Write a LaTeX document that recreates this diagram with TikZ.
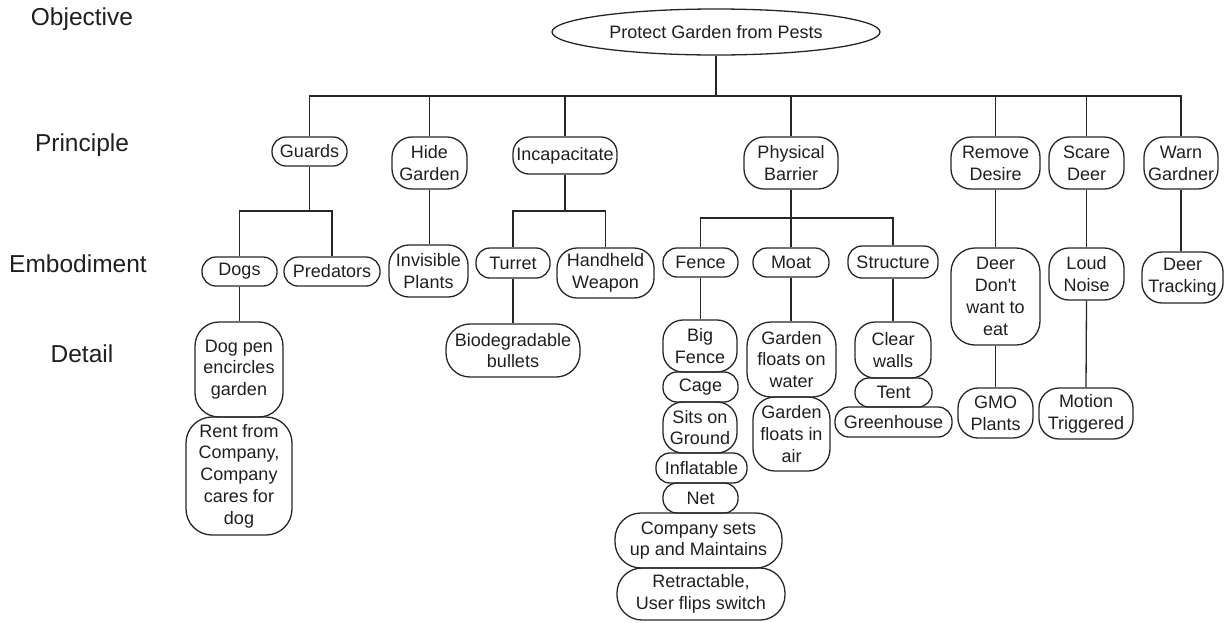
\documentclass[tikz,border=0pt]{standalone}
\usepackage{fontspec}
\setmainfont{Liberation Sans}
\usetikzlibrary{shapes.geometric}
\begin{document}
\begin{tikzpicture}[x=1pt,y=-1pt,
  wire/.style={line width=1.3pt, draw=black!85},
  box/.style={draw=black!85, line width=1.3pt, rounded corners=14pt, align=center,
    inner sep=0pt, text=black!88, font=\fontsize{18}{21.8}\selectfont},
  tallbox/.style={box, rounded corners=20pt},
  sz/.style 2 args={minimum width=#1pt, minimum height=#2pt},
  level/.style={text=black!88, font=\fontsize{24.5}{28}\selectfont}]
\useasboundingbox (0,0) rectangle (1225,622);

% level captions
\node[level] (lObj) at (82,19) {Objective};
\node[level] (lPri) at (82,145) {Principle};
\node[level] (lEmb) at (78,264) {Embodiment};
\node[level] (lDet) at (82,354) {Detail};

% objective
\node[draw=black!85, line width=1.3pt, ellipse, inner sep=0pt, sz={328}{46},
  text=black!88, font=\fontsize{18}{21.8}\selectfont] (top) at (716,32) {Protect Garden from Pests};

% principles
\node[box, sz={75}{29}] (guards) at (309.5,151.5) {Guards};
\node[tallbox, sz={75}{52}] (hide) at (429.5,163) {Hide\\Garden};
\node[box, rounded corners=16pt, sz={104}{37}] (incap) at (565,155.5) {Incapacitate};
\node[tallbox, sz={94}{52}] (phys) at (791,163) {Physical\\Barrier};
\node[tallbox, sz={89}{52}] (remove) at (995.5,163) {Remove\\Desire};
\node[tallbox, sz={75}{52}] (scare) at (1086.5,163) {Scare\\Deer};
\node[tallbox, sz={74}{52}] (warn) at (1181,163) {Warn\\Gardner};

% embodiments
\node[box, sz={75}{29}] (dogs) at (239.5,271.5) {Dogs};
\node[box, sz={96}{29}] (pred) at (332,271.5) {Predators};
\node[tallbox, sz={79}{52}] (invis) at (428.5,271) {Invisible\\Plants};
\node[box, sz={74}{30}] (turret) at (513,263) {Turret};
\node[tallbox, sz={97}{50}] (hand) at (605.5,273) {Handheld\\Weapon};
\node[box, sz={75}{29}] (fence) at (700.5,262.5) {Fence};
\node[box, sz={76}{29}] (moat) at (791,262.5) {Moat};
\node[box, sz={90}{32}] (struct) at (893,262) {Structure};
\node[tallbox, rounded corners=24pt, sz={89}{97}] (noeat) at (995.5,296.5) {Deer\\Don\textquotesingle t\\want to\\eat};
\node[tallbox, sz={75}{52}] (loud) at (1086.5,274) {Loud\\Noise};
\node[tallbox, sz={81}{51}] (track) at (1182.5,277.5) {Deer\\Tracking};

% details
\node[tallbox, rounded corners=24pt, sz={88}{95}] (dogpen) at (239,369.5) {Dog pen\\encircles\\garden};
\node[tallbox, rounded corners=26pt, sz={106}{118}] (rent) at (239,476) {Rent from\\Company,\\Company\\cares for\\dog};
\node[tallbox, rounded corners=24pt, sz={134}{53}] (bio) at (513,350.5) {Biodegradable\\bullets};

\node[tallbox, sz={74}{52}] (bigf) at (700,346) {Big\\Fence};
\node[box, sz={75}{30}] (cage) at (700.5,387) {Cage};
\node[tallbox, sz={74}{51}] (sits) at (700,427.5) {Sits on\\Ground};
\node[box, sz={91}{30}] (infl) at (701.5,468) {Inflatable};
\node[box, sz={75}{30}] (net) at (700.5,498) {Net};
\node[tallbox, rounded corners=26pt, sz={167}{55}] (csets) at (698.5,540.5) {Company sets\\up and Maintains};
\node[tallbox, rounded corners=25pt, sz={168}{52}] (retr) at (701,594) {Retractable,\\User flips switch};

\node[tallbox, rounded corners=24pt, sz={89}{75}] (water) at (791.5,359.5) {Garden\\floats on\\water};
\node[tallbox, rounded corners=22pt, sz={77}{74}] (air) at (791.5,434) {Garden\\floats in\\air};

\node[tallbox, sz={76}{56}] (clear) at (893,350) {Clear\\walls};
\node[box, sz={77}{29}] (tent) at (893.5,392.5) {Tent};
\node[box, sz={117}{30}] (green) at (893.5,422) {Greenhouse};

\node[tallbox, sz={75}{50}] (gmo) at (995.5,413) {GMO\\Plants};
\node[tallbox, sz={94}{51}] (motion) at (1086,413.5) {Motion\\Triggered};

% bus junctions
\coordinate (b0) at (716,96);
\coordinate (bG) at (309.5,211);
\coordinate (bI) at (565,211);
\coordinate (bP) at (791,218);

% objective to principles
\draw[wire] (top.south) -- (b0);
\foreach \n in {guards,hide,incap,phys,remove,scare,warn}
  \draw[wire] (b0) -| (\n.north);

% branches
\draw[wire] (guards.south) -- (bG);
\draw[wire] (bG) -| (dogs.north);
\draw[wire] (bG) -| (pred.north);
\draw[wire] (incap.south) -- (bI);
\draw[wire] (bI) -| (turret.north);
\draw[wire] (bI) -| (hand.north);
\draw[wire] (phys.south) -- (bP);
\draw[wire] (bP) -| (fence.north);
\draw[wire] (bP) -| (moat.north);
\draw[wire] (bP) -| (struct.north);

% single chains
\draw[wire] (hide.south) -- (hide.south |- invis.north);
\draw[wire] (remove.south) -- (noeat.north);
\draw[wire] (noeat.south) -- (gmo.north);
\draw[wire] (scare.south) -- (loud.north);
\draw[wire] (loud.south) -- (motion.north);
\draw[wire] (warn.south) -- (warn.south |- track.north);
\draw[wire] (dogs.south) -- (dogs.south |- dogpen.north);
\draw[wire] (turret.south) -- (bio.north);
\draw[wire] (fence.south) -- (fence.south |- bigf.north);
\draw[wire] (moat.south) -- (moat.south |- water.north);
\draw[wire] (struct.south) -- (clear.north);
\end{tikzpicture}
\end{document}
